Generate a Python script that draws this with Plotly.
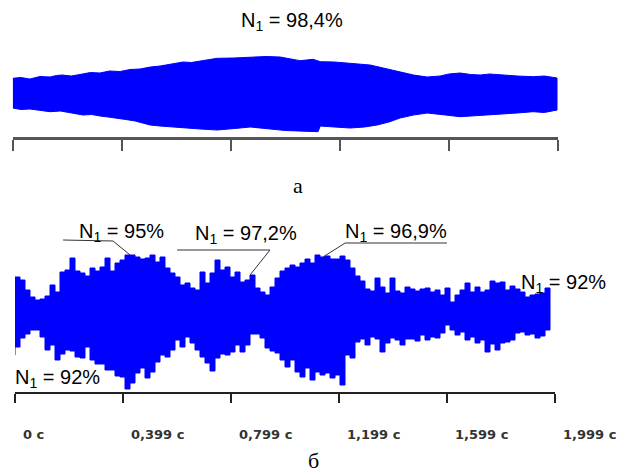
import numpy as np
import plotly.graph_objects as go

# ---------------- data ----------------
# Panel "а" (N1 = 98,4%): vibration signal envelope, time in s
top_t_upper = [0.000, 0.030, 0.063, 0.100, 0.137, 0.160, 0.181, 0.215, 0.247, 0.285,
               0.320, 0.355, 0.394, 0.430, 0.467, 0.505, 0.541, 0.585, 0.625, 0.655,
               0.688, 0.720, 0.750, 0.810, 0.871, 0.930, 0.981, 1.020, 1.054, 1.102,
               1.128, 1.180, 1.238, 1.311, 1.359, 1.421, 1.470, 1.520, 1.568, 1.600,
               1.641, 1.680, 1.715, 1.750, 1.788, 1.850, 1.909, 1.950, 1.997]
top_upper = [15.7, 16.5, 15, 17.5, 17, 18.5, 19, 18, 19.5, 21.5,
             21, 23, 22.5, 24.5, 25, 27, 28, 30, 32, 31.5,
             33, 34, 35.7, 36, 36.7, 37.5, 37, 35, 33.3, 34.7,
             32.3, 32, 31, 29, 26, 22.3, 19, 17, 18, 20,
             21, 19.5, 19, 20, 19, 18, 17.3, 18, 16]
top_t_lower = [0.000, 0.030, 0.063, 0.100, 0.137, 0.175, 0.210, 0.258, 0.290, 0.320,
               0.350, 0.383, 0.415, 0.449, 0.504, 0.540, 0.578, 0.625, 0.688, 0.750,
               0.790, 0.834, 0.871, 0.945, 1.000, 1.054, 1.120, 1.128, 1.180, 1.238,
               1.290, 1.337, 1.380, 1.421, 1.470, 1.520, 1.587, 1.641, 1.680, 1.715,
               1.788, 1.850, 1.909, 1.950, 1.997]
top_lower = [-14, -15.5, -15, -16.5, -17.7, -17, -19, -21, -20.5, -22,
             -23, -24, -25.5, -27, -31, -32, -33, -34, -35, -36,
             -35, -34, -33, -35, -36.5, -37, -37.7, -32, -33, -34,
             -33, -31, -28, -24, -21, -19, -21, -22.7, -21.5, -21,
             -20, -19, -17.7, -18.5, -16]

# Panel "б": sampled every dt seconds
dt = 1.999 / 108
bot_upper = [39, 36, 26, 19, 16, 17, 20, 31, 24, 44,
             46, 58, 45, 43, 40, 48, 45, 49, 58, 45,
             53, 56, 61, 61, 59, 57, 58, 61, 54, 59,
             48, 43, 39, 31, 33, 28, 26, 44, 33, 43,
             56, 46, 49, 39, 44, 34, 36, 41, 28, 24,
             21, 29, 38, 45, 48, 51, 49, 53, 57, 53,
             61, 59, 60, 57, 57, 60, 56, 48, 40, 35,
             27, 25, 38, 29, 23, 38, 25, 23, 29, 27,
             25, 27, 28, 24, 26, 21, 28, 14, 21, 26,
             33, 24, 29, 24, 26, 35, 33, 34, 26, 30,
             27, 24, 19, 21, 22, 23, 28, 12]
bot_lower = [-39, -31, -22, -18, -14, -14, -21, -34, -29, -44,
             -38, -34, -35, -41, -42, -31, -44, -48, -48, -54,
             -54, -60, -61, -73, -67, -57, -52, -62, -56, -46,
             -39, -41, -34, -24, -31, -21, -27, -34, -41, -47,
             -55, -42, -38, -39, -36, -29, -36, -29, -18, -18,
             -22, -32, -35, -37, -44, -51, -44, -56, -61, -52,
             -64, -56, -59, -57, -62, -59, -69, -39, -42, -26,
             -23, -29, -21, -23, -36, -27, -22, -24, -29, -23,
             -23, -25, -19, -24, -21, -22, -17, -9, -14, -19,
             -16, -24, -21, -27, -24, -36, -28, -34, -27, -26,
             -24, -17, -16, -19, -18, -22, -20, -14]
bot_t = list(np.arange(len(bot_upper)) * dt)

tick_vals = [0, 0.3998, 0.7996, 1.1994, 1.5992, 1.999]
tick_text = ["0 с", "0,399 с", "0,799 с", "1,199 с", "1,599 с", "1,999 с"]

# ---------------- figure ----------------
W, H = 617, 473
BLUE = "#0000ff"
fig = go.Figure()

fig.add_trace(go.Scatter(
    x=top_t_upper + top_t_lower[::-1],
    y=top_upper + top_lower[::-1],
    fill="toself", fillcolor=BLUE, mode="lines",
    line=dict(color=BLUE, width=1), xaxis="x", yaxis="y",
    hoverinfo="skip", showlegend=False))

fig.add_trace(go.Scatter(
    x=bot_t + bot_t[::-1],
    y=bot_upper + bot_lower[::-1],
    fill="toself", fillcolor=BLUE, mode="lines",
    line=dict(color=BLUE, width=1, shape="hv"), xaxis="x2", yaxis="y2",
    hoverinfo="skip", showlegend=False))

def px(x):
    return x / W

def py(y):
    return 1 - y / H

fig.update_layout(
    width=W, height=H,
    margin=dict(l=0, r=0, t=0, b=0, autoexpand=False),
    paper_bgcolor="white", plot_bgcolor="white",
    xaxis=dict(domain=[px(12.7), px(557.7)], range=[0, 1.999], anchor="y",
               showline=True, linecolor="#555", linewidth=2.5,
               ticks="outside", ticklen=11, tickwidth=2, tickcolor="#555",
               tickvals=tick_vals, showticklabels=False, automargin=False,
               showgrid=False, zeroline=False),
    yaxis=dict(domain=[py(137), py(40)], range=[-43, 54], visible=False),
    xaxis2=dict(domain=[px(15), px(555)], range=[0, 1.999], anchor="y2",
                showline=True, linecolor="#222", linewidth=2,
                ticks="outside", ticklen=9, tickwidth=2, tickcolor="#222",
                tickvals=tick_vals, ticktext=tick_text, automargin=False,
                ticklabelposition="outside right", ticklabeloverflow="allow",
                ticklabelstandoff=29, ticklabelshift=6,
                tickfont=dict(family="DejaVu Sans", size=13, color="#333",
                              weight="bold"),
                showgrid=False, zeroline=False),
    yaxis2=dict(domain=[py(392), py(200)], range=[-76, 116], visible=False),
)

# leader lines (bottom panel, data coords)
leaders = [
    [(0.178, 76), (0.363, 75), (0.426, 61)],
    [(0.600, 66), (0.944, 66), (0.870, 41)],
    [(1.599, 73), (1.222, 73), (1.140, 59)],
]
for pts in leaders:
    path = "M " + " L ".join(f"{a},{b}" for a, b in pts)
    fig.add_shape(type="path", path=path, xref="x2", yref="y2",
                  line=dict(color="#333", width=1))

lab_font = dict(family="Liberation Sans", size=20, color="black")
labels = [
    ("N<sub>1</sub> = 98,4%", 292, 22),
    ("N<sub>1</sub> = 95%", 121, 232),
    ("N<sub>1</sub> = 97,2%", 246, 234),
    ("N<sub>1</sub> = 96,9%", 396, 232),
    ("N<sub>1</sub> = 92%", 563, 283),
    ("N<sub>1</sub> = 92%", 57, 378),
]
for txt, x, y in labels:
    fig.add_annotation(text=txt, x=px(x), y=py(y), xref="paper", yref="paper",
                       xanchor="center", yanchor="middle", showarrow=False,
                       font=lab_font)

serif = dict(family="Liberation Serif", size=22, color="black")
fig.add_annotation(text="а", x=px(298), y=py(185), xref="paper", yref="paper",
                   xanchor="center", yanchor="middle", showarrow=False, font=serif)
fig.add_annotation(text="б", x=px(313), y=py(460), xref="paper", yref="paper",
                   xanchor="center", yanchor="middle", showarrow=False, font=serif)

fig.write_html("out.html")
